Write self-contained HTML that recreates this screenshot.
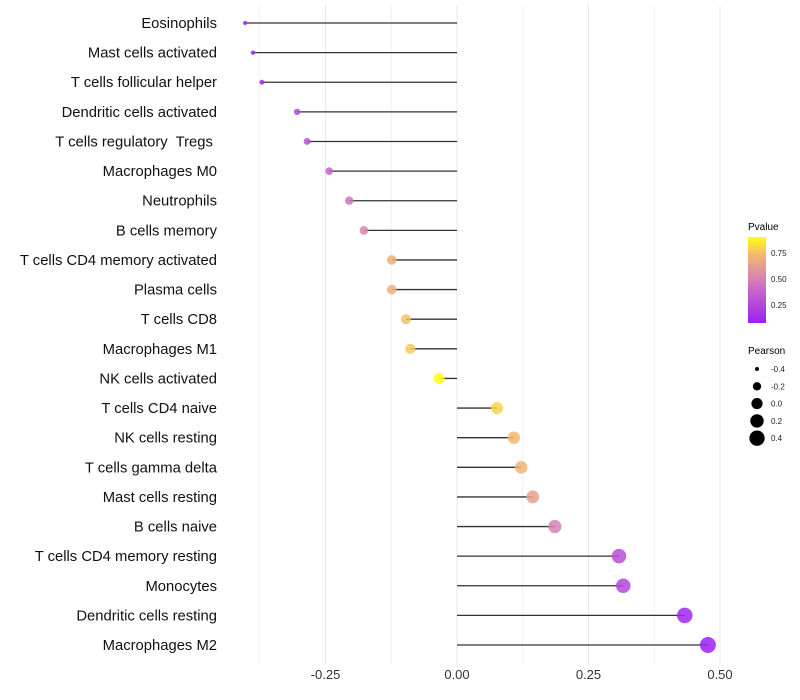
<!DOCTYPE html>
<html><head><meta charset="utf-8"><style>
body{margin:0;background:#fff;font-family:"Liberation Sans",sans-serif}
svg{display:block}
</style></head><body>
<svg id="chart" width="800" height="700">
<defs><linearGradient id="pg" x1="0" y1="1" x2="0" y2="0">
<stop offset="0" stop-color="#9c1ef4"/><stop offset="0.5" stop-color="#d47fba"/><stop offset="0.8" stop-color="#f3bb6c"/><stop offset="1" stop-color="#ffff10"/>
</linearGradient></defs>
<g id="grid"></g><g id="marks"></g><g id="ylab"></g><g id="xlab"></g>
<g>
<text x="748" y="230" font-size="10" fill="#000">Pvalue</text>
<rect x="748" y="237" width="18" height="86" fill="url(#pg)"/>
<text x="771" y="256" font-size="8" fill="#222">0.75</text>
<text x="771" y="282" font-size="8" fill="#222">0.50</text>
<text x="771" y="308" font-size="8" fill="#222">0.25</text>
</g>
<g id="sizeleg">
<text x="748" y="354" font-size="10" fill="#000">Pearson</text>
</g>
</svg>
<script>
const categories=["Eosinophils","Mast cells activated","T cells follicular helper","Dendritic cells activated","T cells regulatory  Tregs ","Macrophages M0","Neutrophils","B cells memory","T cells CD4 memory activated","Plasma cells","T cells CD8","Macrophages M1","NK cells activated","T cells CD4 naive","NK cells resting","T cells gamma delta","Mast cells resting","B cells naive","T cells CD4 memory resting","Monocytes","Dendritic cells resting","Macrophages M2"];
const pearson=[-0.403,-0.388,-0.371,-0.304,-0.285,-0.243,-0.205,-0.177,-0.124,-0.124,-0.097,-0.089,-0.034,0.076,0.108,0.122,0.144,0.186,0.308,0.316,0.433,0.477];
const pvalue=[0.08,0.10,0.12,0.27,0.30,0.38,0.45,0.53,0.70,0.70,0.76,0.78,0.92,0.80,0.74,0.72,0.64,0.52,0.28,0.26,0.12,0.08];
const xTicks=[-0.25,0,0.25,0.5];
const xTickLabels=["-0.25","0.00","0.25","0.50"];
const minorTicks=[-0.375,-0.125,0.125,0.375];
const sizeLegend=[-0.4,-0.2,0.0,0.2,0.4];
const sizeLegendLabels=["-0.4","-0.2","0.0","0.2","0.4"];
const NS="http://www.w3.org/2000/svg";
const x=v=>457+v*526;
const y=i=>23+i*29.62;
const rad=v=>Math.sqrt(Math.max(1,31.3+68.2*v));
const stops=[[0.077,[156,30,244]],[0.5,[212,127,186]],[0.75,[243,187,108]],[0.894,[255,255,16]]];
function col(p){if(p<=stops[0][0])return `rgb(${stops[0][1]})`;for(let k=1;k<stops.length;k++){if(p<=stops[k][0]){const t=(p-stops[k-1][0])/(stops[k][0]-stops[k-1][0]);const a=stops[k-1][1],b=stops[k][1];return `rgb(${a.map((c,j)=>Math.round(c+(b[j]-c)*t))})`;}}return `rgb(${stops[stops.length-1][1]})`;}
function mk(tag,attrs,parent){const e=document.createElementNS(NS,tag);for(const k in attrs)e.setAttribute(k,attrs[k]);parent.appendChild(e);return e;}
const grid=document.getElementById('grid'),marks=document.getElementById('marks'),ylab=document.getElementById('ylab'),xlab=document.getElementById('xlab');
minorTicks.forEach(t=>{const l=mk('line',{x1:x(t),x2:x(t),y1:5,y2:665,stroke:'#f2f2f2','stroke-width':1},grid);

});
xTicks.forEach((t,i)=>{const l=mk('line',{x1:x(t),x2:x(t),y1:5,y2:665,stroke:'#e8e8e8','stroke-width':1},grid);


const tx=mk('text',{x:x(t),y:679,'font-size':13,fill:'#333','text-anchor':'middle'},xlab);tx.textContent=xTickLabels[i];

});
categories.forEach((c,i)=>{
const t=mk('text',{x:217,y:y(i)+5,'font-size':14.8,fill:'#111','text-anchor':'end','xml:space':'preserve'},ylab);t.textContent=c;
t.style.whiteSpace='pre';


const ln=mk('line',{x1:x(0),x2:x(pearson[i]),y1:y(i),y2:y(i),stroke:'#333','stroke-width':1.3},marks);


const d=mk('circle',{cx:x(pearson[i]),cy:y(i),r:rad(pearson[i]),fill:col(pvalue[i]),'fill-opacity':0.85},marks);


});
const sl=document.getElementById('sizeleg');
sizeLegend.forEach((v,i)=>{const cy=369+i*17.3;
const c=mk('circle',{cx:757,cy:cy,r:rad(v),fill:'#000'},sl);


const t=mk('text',{x:771,y:cy+3,'font-size':8,fill:'#222'},sl);t.textContent=sizeLegendLabels[i];

});
</script>
</body></html>
